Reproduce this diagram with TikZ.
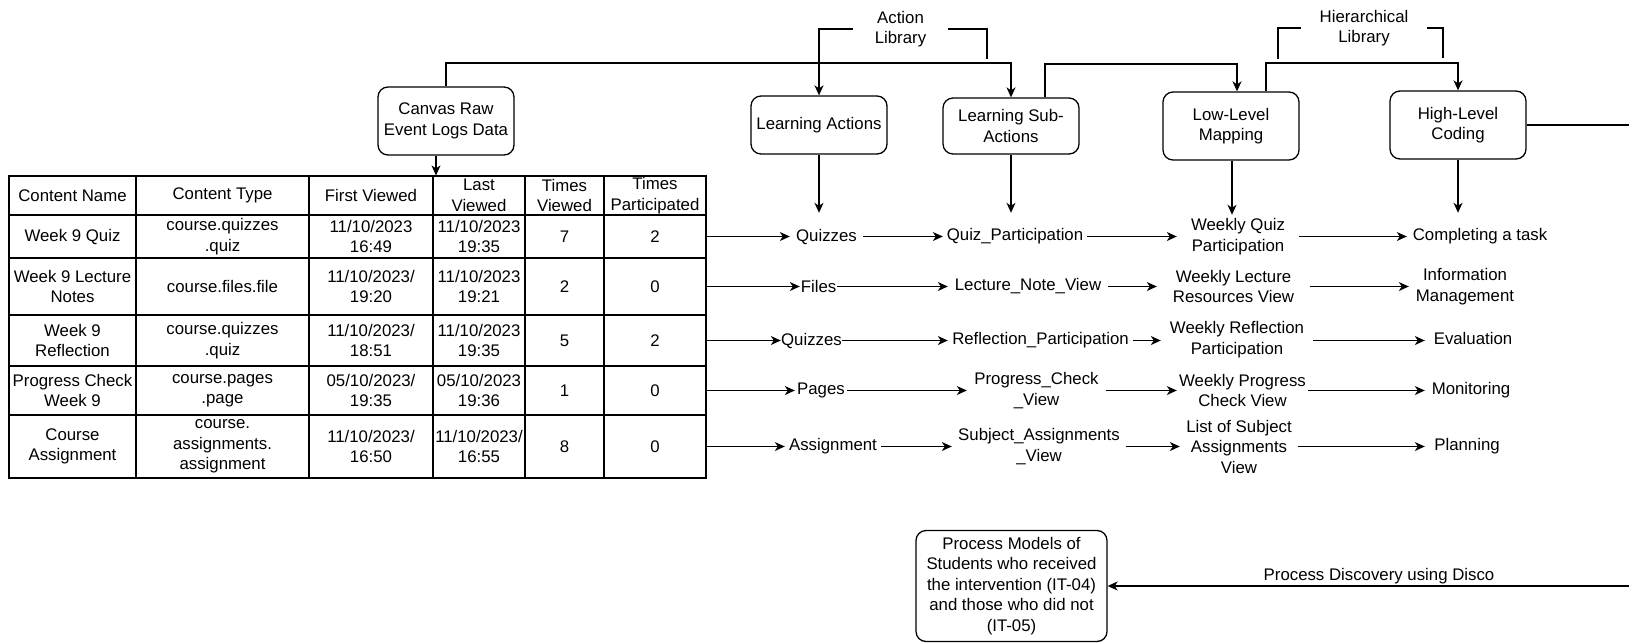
\documentclass[tikz,border=0pt]{standalone}
\usepackage{fontspec}
\setmainfont{Liberation Sans}
\usetikzlibrary{arrows.meta}
\begin{document}
\begin{tikzpicture}[x=1pt,y=-1pt,
  every node/.style={font=\fontsize{16.8}{20.5}\selectfont, align=center, inner sep=0pt, text=black},
  line/.style={draw=black, line width=1.3pt},
  arr/.style={line, -{Stealth[length=10pt,width=9pt,inset=3pt]}},
  box/.style={draw=black, line width=1.3pt, rounded corners=10pt, minimum width=136pt},
  cell/.style={draw=black, line width=1.2pt},
  colA/.style={minimum width=127pt}, colB/.style={minimum width=173pt},
  colC/.style={minimum width=124pt}, colD/.style={minimum width=92pt},
  colE/.style={minimum width=79pt},  colF/.style={minimum width=102pt},
  rowH/.style={minimum height=39pt}, rowA/.style={minimum height=43pt},
  rowB/.style={minimum height=57pt}, rowC/.style={minimum height=51pt},
  rowD/.style={minimum height=49pt}, rowE/.style={minimum height=63pt},
  flow/.style={minimum height=20pt}
]
\useasboundingbox (0,0) rectangle (1629,642);
\clip (0,0) rectangle (1629,642);

% ---- event log table ----
\node[cell,colA,rowH] (t01) at (72.5,195.5) {Content Name};
\node[cell,colB,rowH] (t02) at (222.5,195.5) {Content Type};
\node[cell,colC,rowH] (t03) at (371,195.5) {First Viewed};
\node[cell,colD,rowH] (t04) at (479,195.5) {Last\\Viewed};
\node[cell,colE,rowH] (t05) at (564.5,195.5) {Times\\Viewed};
\node[cell,colF,rowH] (t06) at (655,195.5) {Times\\Participated};

\node[cell,colA,rowA] (t11) at (72.5,236.5) {Week 9 Quiz};
\node[cell,colB,rowA] (t12) at (222.5,236.5) {course.quizzes\\.quiz};
\node[cell,colC,rowA] (t13) at (371,236.5) {11/10/2023\\16:49};
\node[cell,colD,rowA] (t14) at (479,236.5) {11/10/2023\\19:35};
\node[cell,colE,rowA] (t15) at (564.5,236.5) {7};
\node[cell,colF,rowA] (t16) at (655,236.5) {2};

\node[cell,colA,rowB] (t21) at (72.5,286.5) {Week 9 Lecture\\Notes};
\node[cell,colB,rowB] (t22) at (222.5,286.5) {course.files.file};
\node[cell,colC,rowB] (t23) at (371,286.5) {11/10/2023/\\19:20};
\node[cell,colD,rowB] (t24) at (479,286.5) {11/10/2023\\19:21};
\node[cell,colE,rowB] (t25) at (564.5,286.5) {2};
\node[cell,colF,rowB] (t26) at (655,286.5) {0};

\node[cell,colA,rowC] (t31) at (72.5,340.5) {Week 9\\Reflection};
\node[cell,colB,rowC] (t32) at (222.5,340.5) {course.quizzes\\.quiz};
\node[cell,colC,rowC] (t33) at (371,340.5) {11/10/2023/\\18:51};
\node[cell,colD,rowC] (t34) at (479,340.5) {11/10/2023\\19:35};
\node[cell,colE,rowC] (t35) at (564.5,340.5) {5};
\node[cell,colF,rowC] (t36) at (655,340.5) {2};

\node[cell,colA,rowD] (t41) at (72.5,390.5) {Progress Check\\Week 9};
\node[cell,colB,rowD] (t42) at (222.5,390.5) {course.pages\\.page};
\node[cell,colC,rowD] (t43) at (371,390.5) {05/10/2023/\\19:35};
\node[cell,colD,rowD] (t44) at (479,390.5) {05/10/2023\\19:36};
\node[cell,colE,rowD] (t45) at (564.5,390.5) {1};
\node[cell,colF,rowD] (t46) at (655,390.5) {0};

\node[cell,colA,rowE] (t51) at (72.5,446.5) {Course\\Assignment};
\node[cell,colB,rowE] (t52) at (222.5,446.5) {course.\\assignments.\\assignment};
\node[cell,colC,rowE] (t53) at (371,446.5) {11/10/2023/\\16:50};
\node[cell,colD,rowE] (t54) at (479,446.5) {11/10/2023/\\16:55};
\node[cell,colE,rowE] (t55) at (564.5,446.5) {8};
\node[cell,colF,rowE] (t56) at (655,446.5) {0};

% ---- process boxes ----
\node[box,minimum height=68pt] (canvas) at (446,121) {Canvas Raw\\Event Logs Data};
\node[box,minimum height=58pt] (la) at (819,125) {Learning Actions};
\node[box,minimum height=56pt] (lsa) at (1011,126) {Learning Sub-\\Actions};
\node[box,minimum height=68pt] (llm) at (1231,126) {Low-Level\\Mapping};
\node[box,minimum height=68pt] (hlc) at (1458,125) {High-Level\\Coding};
\node[box,minimum width=191pt,minimum height=111pt] (proc) at (1011.5,586)
  {Process Models of\\Students who received\\the intervention (IT-04)\\and those who did not\\(IT-05)};

% ---- library labels ----
\node[minimum width=95pt] (al) at (900.5,29) {Action\\Library};
\node[minimum width=126pt] (hl) at (1364,28) {Hierarchical\\Library};

% ---- mapped items, one row per log entry ----
\node[flow,minimum width=73pt,minimum height=47pt] (q1) at (826.5,236.5) {Quizzes};
\node[flow,minimum width=144pt,minimum height=47pt] (qp1) at (1015,236.5) {Quiz\_Participation};
\node[flow,minimum width=122pt,minimum height=43pt] (wqp) at (1238,236.5) {Weekly Quiz\\Participation};
\node[flow,minimum width=146pt,minimum height=47pt] (ct) at (1480,236.5) {Completing a task};

\node[flow,minimum width=37pt] (fl) at (818.5,286.5) {Files};
\node[flow,minimum width=160pt] (lnv) at (1028,286.5) {Lecture\_Note\_View};
\node[flow,minimum width=153pt] (wlr) at (1233.5,286.5) {Weekly Lecture\\Resources View};
\node[flow,minimum width=112pt] (im) at (1465,286.5) {Information\\Management};

\node[flow,minimum width=61pt] (q3) at (811.5,340.5) {Quizzes};
\node[flow,minimum width=185pt] (rp) at (1040.5,340.5) {Reflection\_Participation};
\node[flow,minimum width=152pt] (wrp) at (1237,339.5) {Weekly Reflection\\Participation};
\node[flow,minimum width=96pt] (ev) at (1473,338.5) {Evaluation};

\node[flow,minimum width=52pt] (pg) at (821,390.5) {Pages};
\node[flow,minimum width=139pt] (pcv) at (1036.5,390.5) {Progress\_Check\\\_View};
\node[flow,minimum width=131pt] (wpc) at (1242.5,390.5) {Weekly Progress\\Check View};
\node[flow,minimum width=92pt] (mo) at (1471,390.5) {Monitoring};

\node[flow,minimum width=96pt] (as) at (833,446.5) {Assignment};
\node[flow,minimum width=174pt] (sav) at (1039,446.5) {Subject\_Assignments\\\_View};
\node[flow,minimum width=118pt] (lsv) at (1239,446.5) {List of Subject\\Assignments\\View};
\node[flow,minimum width=84pt] (pl) at (1467,446.5) {Planning};

\node (pd) at (1379,576) {Process Discovery using Disco};

% ---- helper coordinates for routed connectors ----
\coordinate (alr) at (987,59);
\coordinate (hll) at (1278,59);
\coordinate (hlr) at (1443,58);
\coordinate (topA) at (700,63);
\coordinate (topB) at (1150,64);
\coordinate (topC) at (1350,63);
\coordinate (offR) at (1660,125);
\coordinate (cs) at ([xshift=-10pt]canvas.south);
\coordinate (ls) at ([xshift=1pt]llm.south);

% ---- library brackets ----
\draw[arr] (al.west) -| (la.north);
\draw[line] (al.east) -| (alr);
\draw[line] (hl.west) -| (hll);
\draw[line] (hl.east) -| (hlr);

% ---- top routing between stages ----
\draw[arr] (canvas.north) |- (topA) -| (lsa.north);
\draw[arr] ([xshift=34pt]lsa.north) |- (topB) -| ([xshift=6pt]llm.north);
\draw[arr] ([xshift=35pt]llm.north) |- (topC) -| (hlc.north);
\draw[arr] (hlc.east) -- (offR) |- (proc.east);

% ---- downward arrows ----
\draw[arr] (cs) -- (cs |- t04.north);
\draw[arr] (la.south) -- (la.south |- q1.north);
\draw[arr] (lsa.south) -- (lsa.south |- qp1.north);
\draw[arr] (ls) -- (ls |- wqp.north);
\draw[arr] (hlc.south) -- (hlc.south |- ct.north);

% ---- row chains ----
\draw[arr] (t16.east) -- (q1.west);
\draw[arr] (q1.east) -- (qp1.west);
\draw[arr] (qp1.east) -- (wqp.west);
\draw[arr] (wqp.east) -- (ct.west);

\draw[arr] (t26.east) -- (fl.west);
\draw[arr] (fl.east) -- (lnv.west);
\draw[arr] (lnv.east) -- (wlr.west);
\draw[arr] (wlr.east) -- (im.west);

\draw[arr] (t36.east) -- (q3.west);
\draw[arr] (q3.east) -- (rp.west);
\draw[arr] (rp.east) -- (wrp.west |- rp.east);
\draw[arr] (wrp.east |- rp.east) -- (ev.west |- rp.east);

\draw[arr] (t46.east) -- (pg.west);
\draw[arr] (pg.east) -- (pcv.west);
\draw[arr] (pcv.east) -- (wpc.west);
\draw[arr] (wpc.east) -- (mo.west);

\draw[arr] (t56.east) -- (as.west);
\draw[arr] (as.east) -- (sav.west);
\draw[arr] (sav.east) -- (lsv.west);
\draw[arr] (lsv.east) -- (pl.west);
\end{tikzpicture}
\end{document}
